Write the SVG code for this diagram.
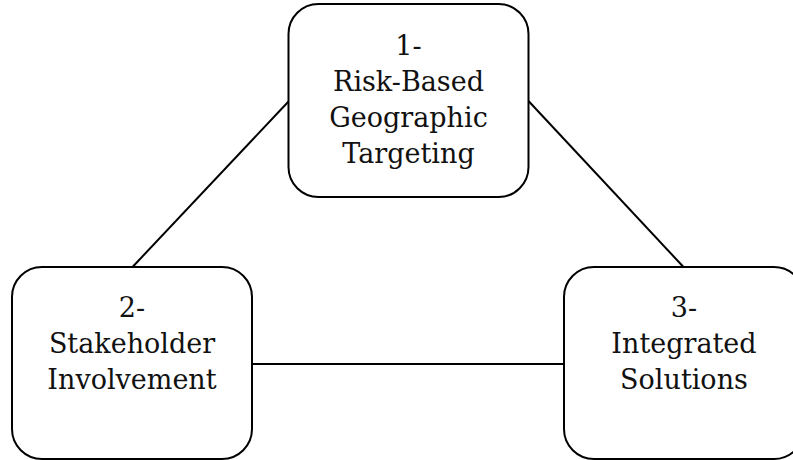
<svg xmlns="http://www.w3.org/2000/svg" width="793" height="460" viewBox="0 0 793 460">
<style>
.box{fill:#fff;stroke:#000;stroke-width:2}
.conn{stroke:#000;stroke-width:2;fill:none}
text{font-family:"DejaVu Serif","Liberation Serif",serif;font-size:27px;fill:#111;text-anchor:middle}
</style>
<rect width="793" height="460" fill="#fff"/>
<g id="connectors">
<line class="conn" x1="288.5" y1="101.5" x2="132.5" y2="267"/>
<line class="conn" x1="528.5" y1="101" x2="683.5" y2="267"/>
<line class="conn" x1="252" y1="364" x2="564" y2="364"/>
</g>
<g id="node1">
<rect class="box" x="288.5" y="4" width="240" height="193" rx="30" ry="30"/>
<text x="408.5" y="54.5">1-</text>
<text x="408.5" y="90.5">Risk-Based</text>
<text x="408.5" y="126.5">Geographic</text>
<text x="408.5" y="162.5">Targeting</text>
</g>
<g id="node2">
<rect class="box" x="12" y="267" width="240" height="192" rx="30" ry="30"/>
<text x="132" y="316.5">2-</text>
<text x="132" y="352.5">Stakeholder</text>
<text x="132" y="388.5">Involvement</text>
</g>
<g id="node3">
<rect class="box" x="564" y="267" width="240" height="192" rx="30" ry="30"/>
<text x="684" y="316.5">3-</text>
<text x="684" y="352.5">Integrated</text>
<text x="684" y="388.5">Solutions</text>
</g>
</svg>
